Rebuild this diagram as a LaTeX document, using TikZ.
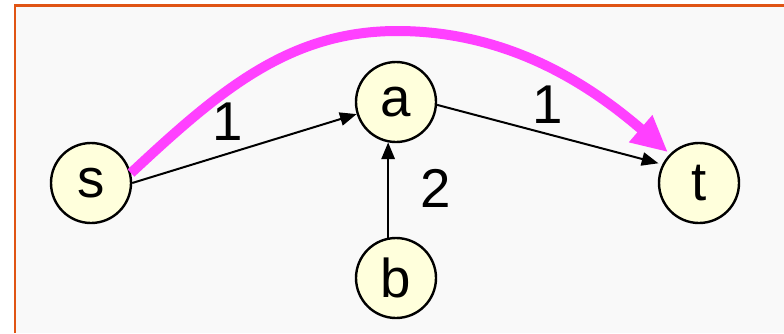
\documentclass[tikz,border=0pt]{standalone}
\usepackage{fontspec}
\setmainfont{Liberation Sans}
\usetikzlibrary{arrows.meta}

\definecolor{framecol}{HTML}{E05414}
\definecolor{panelcol}{HTML}{F9F9F9}
\definecolor{nodecol}{HTML}{FFFFDC}
\definecolor{pathcol}{HTML}{FF40FF}

\begin{document}
\begin{tikzpicture}
[
	x=0.75pt,
	y=-0.75pt,
	vertex/.style={circle,draw,line width=1.8pt,fill=nodecol,inner sep=0pt,minimum size=60pt,font=\fontsize{41}{42}\selectfont},
	edge/.style={line width=1.5pt,-{Triangle[length=12.5pt,width=10pt]}},
	weight/.style={font=\fontsize{41}{42}\selectfont},
	route/.style={pathcol,line width=7.5pt,-{Triangle[length=27pt,width=25pt]}}
]

	\useasboundingbox (0,0) rectangle (784,333);

	% panel and frame
	\fill[panelcol] (15,5.5) rectangle (784,333);
	\draw[framecol,line width=1.8pt] (15,333) -- (15,5.5) -- (784,5.5);

	% vertices
	\node[vertex] (s) at (91,183) {s};
	\node[vertex] (a) at (396,102) {a};
	\node[vertex] (b) at (396,278) {b};
	\node[vertex] (t) at (699,183) {t};

	% weighted edges
	\draw[edge] (s.east) -- (a);
	\draw[edge,shorten >=3pt] (a.-4) -- (t.153);
	\draw[edge] (b.101) -- (a.259);

	\node[weight] (w1) at (228,122) {1};
	\node[weight] (w2) at (548,105) {1};
	\node[weight] (w3) at (436,188) {2};

	% shortest path
	\coordinate (peak) at (400,31);
	\draw[route,shorten >=2pt] (s.14) .. controls (220,90) and (290,30) .. (peak)
	  .. controls (510,32) and (590,85) .. (t.135);

\end{tikzpicture}
\end{document}
